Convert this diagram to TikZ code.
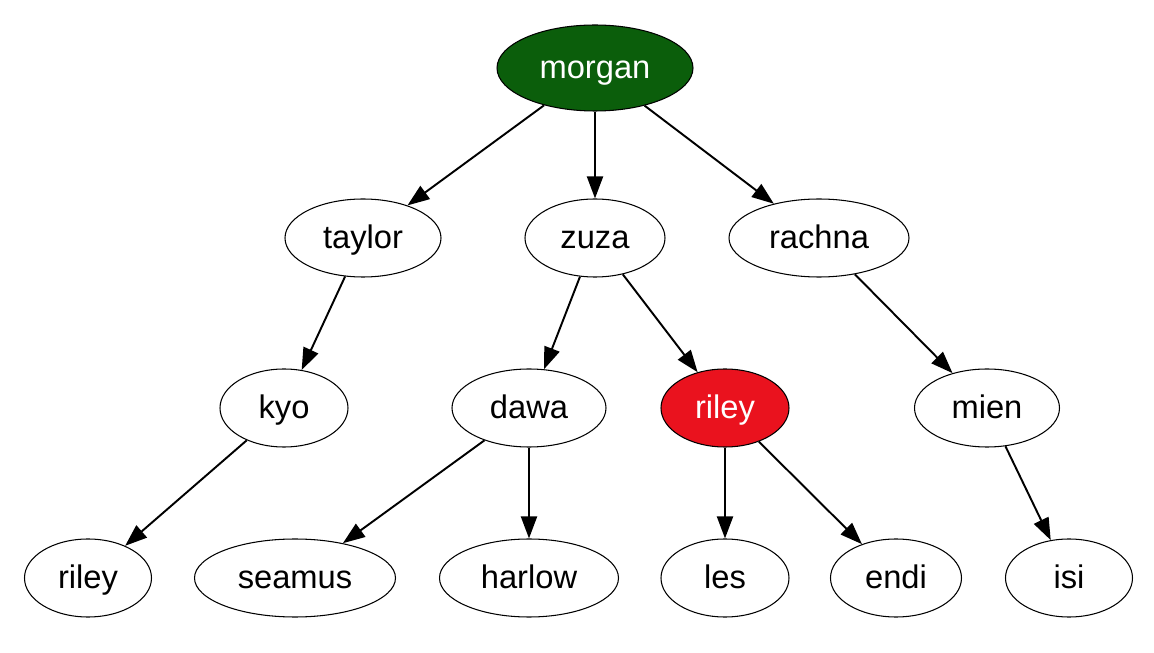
\documentclass[tikz,border=0pt]{standalone}
\usepackage{fontspec}
\setmainfont{Liberation Sans}
\usepackage{tikz}
\usetikzlibrary{arrows.meta,shapes.geometric}

\definecolor{rootgreen}{RGB}{11,94,11}
\definecolor{hitred}{RGB}{234,18,30}

\begin{document}
\begin{tikzpicture}[
  person/.style={ellipse, draw, line width=0.6pt, inner sep=0pt, minimum height=1.56cm,
    text height=14.6pt, text depth=3.2pt, font=\fontsize{18.6}{22}\selectfont},
  marked/.style={fill=#1, text=white},
  link/.style={draw, -{Triangle[length=0.44cm, width=0.32cm]}, line width=1.1pt}
]
\useasboundingbox (0,0) rectangle (23.08,13.04);

% top
\node[person, marked=rootgreen, minimum width=3.92cm, minimum height=1.72cm] (morgan) at (11.90,11.68) {morgan};

% second row
\node[person, minimum width=3.12cm] (taylor) at (7.26,8.28) {taylor};
\node[person, minimum width=2.80cm] (zuza) at (11.90,8.28) {zuza};
\node[person, minimum width=3.60cm] (rachna) at (16.38,8.28) {rachna};

% third row
\node[person, minimum width=2.56cm] (kyo) at (5.68,4.88) {kyo};
\node[person, minimum width=3.08cm] (dawa) at (10.58,4.88) {dawa};
\node[person, marked=hitred, minimum width=2.56cm] (rileyA) at (14.50,4.88) {riley};
\node[person, minimum width=2.90cm] (mien) at (19.74,4.88) {mien};

% bottom row
\node[person, minimum width=2.54cm] (rileyB) at (1.76,1.48) {riley};
\node[person, minimum width=4.02cm] (seamus) at (5.90,1.48) {seamus};
\node[person, minimum width=3.58cm] (harlow) at (10.58,1.48) {harlow};
\node[person, minimum width=2.56cm] (les) at (14.50,1.48) {les};
\node[person, minimum width=2.62cm] (endi) at (17.92,1.48) {endi};
\node[person, minimum width=2.54cm] (isi) at (21.38,1.48) {isi};

\foreach \from/\to in {morgan/taylor, morgan/zuza, morgan/rachna,
    taylor/kyo, zuza/dawa, zuza/rileyA, rachna/mien,
    kyo/rileyB, dawa/seamus, dawa/harlow, rileyA/les, rileyA/endi, mien/isi}
  \path[link] (\from) -- (\to);
\end{tikzpicture}
\end{document}
